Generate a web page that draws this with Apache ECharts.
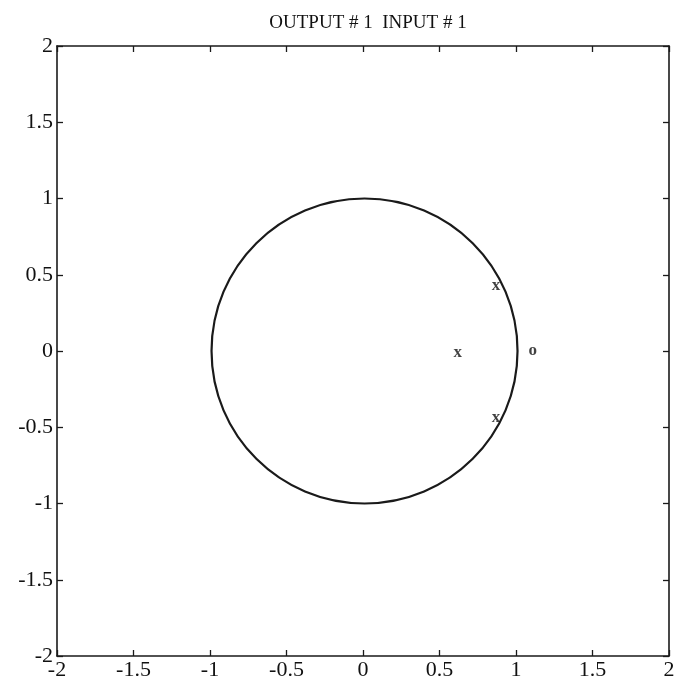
<!DOCTYPE html>
<html>
<head>
<meta charset="utf-8">
<script src="https://cdn.jsdelivr.net/npm/echarts@6/dist/echarts.min.js"></script>
<style>
  html, body { margin: 0; padding: 0; background: #fff; }
  #main { width: 680px; height: 688px; }
</style>
</head>
<body>
<div id="main"></div>
<script>
var chartDom = document.getElementById('main');
var myChart = echarts.init(chartDom);
var option;

// pole / zero positions
var poles = [[0.87, 0.43], [0.62, -0.01], [0.87, -0.44]];
var zeros = [[1.11, 0]];
// unit circle: centre x, centre y, radius
var unitCircle = [[0.01, 0, 1]];
var axisMin = -2, axisMax = 2, axisStep = 0.5;

var serif = '"Liberation Serif", "DejaVu Serif", serif';

function axisBase(pos, showLabels) {
  return {
    type: 'value',
    position: pos,
    min: axisMin,
    max: axisMax,
    interval: axisStep,
    splitLine: { show: false },
    axisLine: { show: true, onZero: false, lineStyle: { color: '#1a1a1a', width: 1.6 } },
    axisTick: { show: true, inside: true, length: 6, lineStyle: { color: '#1a1a1a', width: 1.3 } },
    axisLabel: {
      show: showLabels,
      color: '#111',
      fontFamily: serif,
      fontSize: 22,
      showMinLabel: true,
      showMaxLabel: true
    }
  };
}

var xBottom = axisBase('bottom', true);
xBottom.axisLabel.margin = 3;
var xTop = axisBase('top', false);
var yLeft = axisBase('left', true);
yLeft.axisLabel.margin = 4;
var yRight = axisBase('right', false);

option = {
  animation: false,
  backgroundColor: '#fff',
  title: {
    text: 'OUTPUT # 1  INPUT # 1',
    left: 363,
    textAlign: 'center',
    top: 9,
    textStyle: { fontFamily: serif, fontSize: 19, fontWeight: 'normal', color: '#111' }
  },
  grid: { left: 57, right: 11, top: 46, bottom: 32 },
  xAxis: [xBottom, xTop],
  yAxis: [yLeft, yRight],
  series: [
    {
      type: 'custom',
      data: unitCircle,
      renderItem: function (params, api) {
        var c = api.coord([api.value(0), api.value(1)]);
        var s = api.size([api.value(2), api.value(2)]);
        return {
          type: 'ellipse',
          shape: { cx: c[0], cy: c[1], rx: s[0], ry: s[1] },
          style: { fill: 'none', stroke: '#1a1a1a', lineWidth: 2.2 }
        };
      },
      silent: true
    },
    {
      type: 'scatter',
      data: poles,
      symbolSize: 0,
      label: {
        show: true,
        position: 'inside',
        formatter: 'x',
        fontFamily: serif,
        fontWeight: 'bold',
        fontSize: 17,
        color: '#111'
      }
    },
    {
      type: 'scatter',
      data: zeros,
      symbolSize: 0,
      label: {
        show: true,
        position: 'inside',
        formatter: 'o',
        fontFamily: serif,
        fontWeight: 'bold',
        fontSize: 17,
        color: '#111'
      }
    }
  ]
};

option && myChart.setOption(option);
</script>
</body>
</html>
